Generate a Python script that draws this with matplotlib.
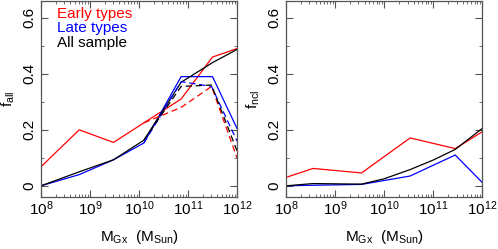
import numpy as np
import matplotlib
matplotlib.use("Agg")
import matplotlib.pyplot as plt
from matplotlib.ticker import LogLocator, MultipleLocator

plt.rcParams["font.family"] = ["Liberation Sans", "DejaVu Sans"]
plt.rcParams["mathtext.fontset"] = "custom"
plt.rcParams["mathtext.rm"] = "Liberation Sans"
plt.rcParams["mathtext.default"] = "regular"

# log10(M_Gx) of bin centres
LOGM_ALL = [8.0, 8.78, 9.48, 10.1, 10.86, 11.5, 12.0]
EARLY_ALL = [0.068, 0.20, 0.155, 0.225, 0.31, 0.46, 0.49]
LATE_ALL = [0.0, 0.04, 0.093, 0.153, 0.39, 0.39, 0.205]
ALLS_ALL = [0.0, 0.05, 0.093, 0.163, 0.37, 0.44, 0.487]

LOGM_DASH = [10.1, 10.86, 11.48, 12.0]
EARLY_DASH = [0.225, 0.28, 0.355, 0.10]
LATE_DASH = [0.153, 0.372, 0.355, 0.16]
ALLS_DASH = [0.163, 0.355, 0.36, 0.125]

LOGM_NCL = [8.0, 8.55, 9.54, 10.53, 11.45, 12.0]
EARLY_NCL = [0.03, 0.062, 0.046, 0.171, 0.133, 0.193]
LATE_NCL = [0.0, 0.002, 0.005, 0.035, 0.11, 0.012]
LOGM_NCL_ALL = [8.0, 8.55, 9.54, 10.0, 10.53, 11.0, 11.45, 12.0]
ALLS_NCL = [0.0, 0.008, 0.006, 0.025, 0.058, 0.092, 0.13, 0.205]

RED, BLUE, BLACK = "#ff0000", "#0000ff", "#000000"


def style(ax, ylab):
    ax.set_xscale("log")
    ax.set_xlim(1e8, 1e12)
    ax.set_ylim(-0.04, 0.66)
    ax.xaxis.set_major_locator(LogLocator(base=10, numticks=10))
    ax.xaxis.set_minor_locator(LogLocator(base=10, subs=np.arange(2, 10), numticks=20))
    ax.yaxis.set_minor_locator(MultipleLocator(0.1))
    ax.set_yticks([0, 0.2, 0.4, 0.6])
    ax.set_yticklabels(["0", "0.2", "0.4", "0.6"], rotation=90, va="center")
    ax.tick_params(which="both", direction="in", top=True, right=True,
                   labelsize=11, color="#555555")
    ax.tick_params(which="major", length=5, width=0.8)
    ax.tick_params(which="minor", length=2.5, width=0.6)
    ax.tick_params(axis="x", pad=2)
    ax.tick_params(axis="y", pad=3)
    for s in ax.spines.values():
        s.set_color("#555555")
        s.set_linewidth(0.9)
    ax.set_xlabel(r"M$_{Gx}$  (M$_{Sun}$)", fontsize=11, labelpad=7)
    ax.set_ylabel(ylab, fontsize=11, labelpad=4)


fig = plt.figure(figsize=(4.98, 2.49), dpi=100)
axL = fig.add_axes([0.0823, 0.2088, 0.3936, 0.787])
axR = fig.add_axes([0.5743, 0.2088, 0.394, 0.787])

lw = 0.9
x = 10 ** np.array(LOGM_ALL)
axL.plot(x, EARLY_ALL, color=RED, lw=lw)
axL.plot(x, LATE_ALL, color=BLUE, lw=lw)
axL.plot(x, ALLS_ALL, color=BLACK, lw=lw)
xd = 10 ** np.array(LOGM_DASH)
axL.plot(xd, EARLY_DASH, color=RED, lw=lw, ls=(0, (5, 3)))
axL.plot(xd, LATE_DASH, color=BLUE, lw=lw, ls=(0, (5, 3)))
axL.plot(xd, ALLS_DASH, color=BLACK, lw=lw, ls=(0, (5, 3)))

axL.text(0.082, 0.934, "Early types", color=RED, transform=axL.transAxes,
         fontsize=11, va="center")
axL.text(0.082, 0.862, "Late types", color=BLUE, transform=axL.transAxes,
         fontsize=11, va="center")
axL.text(0.082, 0.786, "All sample", color=BLACK, transform=axL.transAxes,
         fontsize=11, va="center")
style(axL, r"f$_{all}$")

xn = 10 ** np.array(LOGM_NCL)
axR.plot(xn, EARLY_NCL, color=RED, lw=lw)
axR.plot(xn, LATE_NCL, color=BLUE, lw=lw)
axR.plot(10 ** np.array(LOGM_NCL_ALL), ALLS_NCL, color=BLACK, lw=lw)
style(axR, r"f$_{ncl}$")

fig.savefig("out.png", dpi=100)
